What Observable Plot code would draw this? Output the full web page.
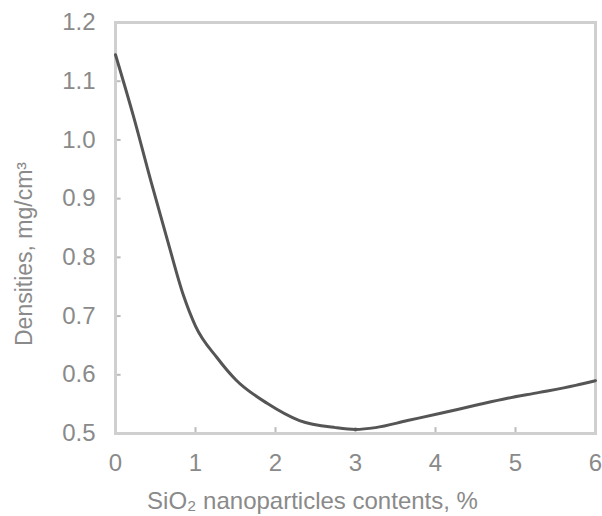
<!DOCTYPE html>
<html>
<head>
<meta charset="utf-8">
<script src="https://cdn.jsdelivr.net/npm/d3@7"></script>
<script src="https://cdn.jsdelivr.net/npm/@observablehq/plot@0.6"></script>
<style>
  html, body { margin: 0; padding: 0; background: #fff; }
  #chart { width: 602px; height: 516px; }
</style>
</head>
<body>
<div id="chart"></div>
<script>
const contents = [0, 0.225, 0.44, 0.65, 0.85, 1.0, 1.27, 1.5, 1.9, 2.3, 2.75, 3.0, 3.25, 3.65, 4.05, 4.5, 4.9, 5.3, 5.75, 6.0];
const density  = [1.145, 1.04, 0.931, 0.829, 0.735, 0.683, 0.629, 0.592, 0.551, 0.522, 0.510, 0.507, 0.510, 0.522, 0.534, 0.548, 0.560, 0.570, 0.582, 0.590];
const xTicks = [0, 1, 2, 3, 4, 5, 6];
const yTicks = [0.5, 0.6, 0.7, 0.8, 0.9, 1.0, 1.1, 1.2];
const xLabel = "SiO₂ nanoparticles contents, %";
const yLabel = "Densities, mg/cm³";

const data = contents.map((c, i) => ({c, d: density[i]}));
const grey = "#8a8a8a";

const chart = Plot.plot({
  width: 602,
  height: 516,
  marginLeft: 115,
  marginRight: 7,
  marginTop: 22,
  marginBottom: 83,
  style: {fontFamily: "Liberation Sans, Arial, sans-serif", background: "#fff"},
  x: {domain: [0, 6], label: null},
  y: {domain: [0.5, 1.2], label: null},
  marks: [
    Plot.axisX(xTicks, {tickSize: 0, tickPadding: 20, fontSize: 24, fill: grey, label: null}),
    Plot.axisY(yTicks, {tickSize: 0, tickPadding: 20, fontSize: 24, fill: grey,
      tickFormat: d3.format(".1f"), label: null}),
    Plot.text([xLabel], {frameAnchor: "bottom", lineAnchor: "middle", textAnchor: "middle",
      dx: -43, dy: 68, fontSize: 24, fill: grey}),
    Plot.text([yLabel], {frameAnchor: "left", lineAnchor: "middle", textAnchor: "middle",
      rotate: -90, dx: -91, dy: 26, fontSize: 23, fill: grey}),
    Plot.ruleY(yTicks.slice(1, -1), {x1: 0, x2: 0.07, stroke: "#bbb", strokeWidth: 2}),
    Plot.ruleX(xTicks.slice(1, -1), {y1: 0.5, y2: 0.51, stroke: "#bbb", strokeWidth: 2}),
    Plot.frame({stroke: "#cfcfcf", strokeWidth: 3}),
    Plot.line(data, {x: "c", y: "d", curve: "monotone-x", stroke: "#555", strokeWidth: 3})
  ]
});
document.getElementById("chart").appendChild(chart);
</script>
</body>
</html>
